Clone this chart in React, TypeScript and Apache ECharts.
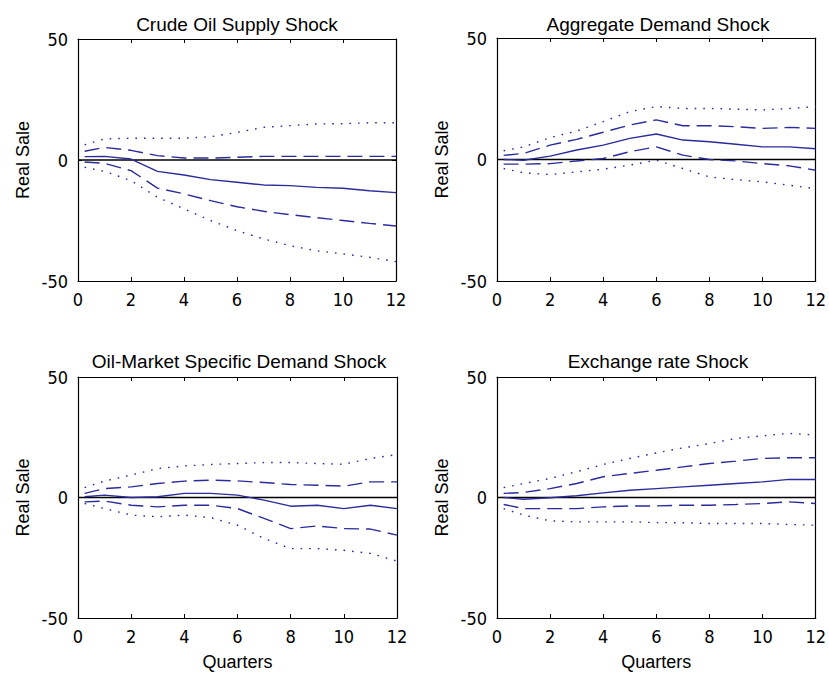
import React, { useEffect, useRef } from "react";
import * as echarts from "echarts";

// ---------- data ----------
const QUARTERS = [0.25, 1, 2, 3, 4, 5, 6, 7, 8, 9, 10, 11, 12];
const TITLES = [
  "Crude Oil Supply Shock",
  "Aggregate Demand Shock",
  "Oil-Market Specific Demand Shock",
  "Exchange rate Shock",
];
const Y_NAME = "Real Sale";
const X_NAME = "Quarters";

// Crude Oil Supply Shock
const SUPPLY_UPPER_DOT = [6.3, 8.7, 9, 9, 9, 9.6, 11.4, 13.5, 14.2, 14.9, 15, 15.4, 15.4];
const SUPPLY_UPPER_DASH = [3.6, 5.2, 4, 1.8, 0.8, 0.8, 1.1, 1.5, 1.5, 1.5, 1.5, 1.5, 1.5];
const SUPPLY_MEDIAN = [1.4, 1.5, 0.4, -4.7, -6.2, -8.1, -9.2, -10.3, -10.6, -11.3, -11.7, -12.7, -13.5];
const SUPPLY_LOWER_DASH = [-0.8, -1.4, -4.4, -11.6, -14, -16.8, -19.3, -21.2, -22.6, -23.8, -25, -26.2, -27.3];
const SUPPLY_LOWER_DOT = [-3, -4.7, -8.5, -15.4, -20.2, -25, -29.2, -32.6, -35.4, -37.5, -38.8, -40.2, -42];

// Aggregate Demand Shock
const DEMAND_UPPER_DOT = [3.6, 5.2, 9, 11.7, 15.6, 19.7, 21.8, 21, 21, 20.7, 20.4, 21, 21.8];
const DEMAND_UPPER_DASH = [1.7, 2.5, 5.9, 8.3, 11.2, 14.2, 16.3, 13.9, 13.9, 13.5, 12.8, 13.2, 12.8];
const DEMAND_MEDIAN = [0, -0.3, 1.4, 3.9, 5.9, 8.7, 10.5, 8, 7.3, 6.3, 5.2, 5.2, 4.4];
const DEMAND_LOWER_DASH = [-1.9, -1.9, -1.7, -0.6, 0.4, 3.2, 5.2, 1.8, 0, -0.6, -1.7, -2.6, -4.4];
const DEMAND_LOWER_DOT = [-3.7, -5.5, -6.2, -5.1, -4, -2.3, -0.3, -3.7, -7.2, -8.3, -9.2, -10.6, -12];

// Oil-Market Specific Demand Shock
const OILMKT_UPPER_DOT = [4.1, 6.8, 9.3, 12, 13.1, 13.7, 14.1, 14.5, 14.5, 14.1, 13.8, 16.2, 17.8];
const OILMKT_UPPER_DASH = [1.7, 3.7, 4.4, 5.8, 6.8, 7.2, 6.9, 6.2, 5.4, 5.1, 4.7, 6.5, 6.5];
const OILMKT_MEDIAN = [0.3, 1, 0, 0.3, 1.7, 1.7, 1, -1.1, -3.6, -3.2, -4.6, -3.2, -4.6];
const OILMKT_LOWER_DASH = [-1.8, -1.5, -3.2, -3.9, -3.2, -3.2, -4.6, -8.7, -12.9, -11.8, -12.9, -13.1, -15.6];
const OILMKT_LOWER_DOT = [-2.5, -4.6, -7.3, -8, -7.3, -8.4, -11.5, -17, -21.2, -21.2, -21.9, -23.2, -26.4];

// Exchange rate Shock
const FX_UPPER_DOT = [4.1, 5.8, 7.9, 10.7, 13.7, 16.2, 18.5, 20.6, 22.4, 24.5, 25.6, 26.6, 25.9];
const FX_UPPER_DASH = [1.7, 2.1, 3.7, 5.8, 8.6, 10, 11.3, 12.7, 14.1, 15.1, 16.2, 16.5, 16.5];
const FX_MEDIAN = [0, -0.7, -0.1, 0.7, 1.9, 3, 3.7, 4.4, 5.1, 5.8, 6.5, 7.5, 7.5];
const FX_LOWER_DASH = [-2.9, -4.6, -4.6, -4.6, -3.9, -3.5, -3.5, -3.2, -3.2, -2.9, -2.5, -1.8, -2.5];
const FX_LOWER_DOT = [-4.6, -7.3, -9.7, -10.1, -10.1, -10.1, -10.4, -10.5, -10.8, -10.8, -10.8, -11.2, -11.5];

const ZERO_LINE = [[0, 0], [12, 0]];

const PANELS = [
  [SUPPLY_UPPER_DOT, SUPPLY_UPPER_DASH, SUPPLY_MEDIAN, SUPPLY_LOWER_DASH, SUPPLY_LOWER_DOT],
  [DEMAND_UPPER_DOT, DEMAND_UPPER_DASH, DEMAND_MEDIAN, DEMAND_LOWER_DASH, DEMAND_LOWER_DOT],
  [OILMKT_UPPER_DOT, OILMKT_UPPER_DASH, OILMKT_MEDIAN, OILMKT_LOWER_DASH, OILMKT_LOWER_DOT],
  [FX_UPPER_DOT, FX_UPPER_DASH, FX_MEDIAN, FX_LOWER_DASH, FX_LOWER_DOT],
];

// ---------- layout / style ----------
const GRIDS = [
  { left: 78, top: 39, width: 318, height: 242 },
  { left: 497, top: 38, width: 319, height: 243 },
  { left: 78, top: 377, width: 319, height: 241 },
  { left: 497, top: 377, width: 319, height: 241 },
];
const TITLE_POS = [
  { x: 232, y: 10 },
  { x: 653, y: 10 },
  { x: 234, y: 347 },
  { x: 653, y: 347 },
];
const BLUE = "#2b2b9c";
const NUM_FONT = "'Liberation Sans Narrow', 'DejaVu Sans Condensed', 'Arial Narrow', sans-serif";
const TXT_FONT = "'Liberation Sans', Arial, sans-serif";

export default function App() {
  const ref = useRef<HTMLDivElement>(null);
  useEffect(() => {
    if (!ref.current) return;
    const chart = echarts.init(ref.current, null, { renderer: "svg" });
    const xAxis: any[] = [];
    const yAxis: any[] = [];
    const series: any[] = [];
    const styles = [
      { type: [1.6, 7], width: 1.4 },
      { type: [15, 7], width: 1.4 },
      { type: "solid", width: 1.4 },
      { type: [15, 7], width: 1.4 },
      { type: [1.6, 7], width: 1.4 },
    ];
    const axisLine = { show: true, onZero: false, lineStyle: { color: "#000", width: 1.2 } };
    const axisTick = { show: true, inside: true, length: 4, lineStyle: { color: "#000" } };
    GRIDS.forEach((g, i) => {
      const bottomRow = i >= 2;
      xAxis.push({
        gridIndex: i,
        type: "value",
        min: 0,
        max: 12,
        interval: 2,
        position: "bottom",
        name: bottomRow ? X_NAME : "",
        nameLocation: "middle",
        nameGap: 35,
        nameTextStyle: { fontFamily: TXT_FONT, fontSize: 18, color: "#000" },
        axisLine,
        axisTick,
        axisLabel: { color: "#000", fontFamily: NUM_FONT, fontSize: 18, margin: 9 },
        splitLine: { show: false },
      });
      xAxis.push({
        gridIndex: i,
        type: "value",
        min: 0,
        max: 12,
        interval: 2,
        position: "top",
        axisLine,
        axisTick,
        axisLabel: { show: false },
        splitLine: { show: false },
      });
      yAxis.push({
        gridIndex: i,
        type: "value",
        min: -50,
        max: 50,
        interval: 50,
        position: "left",
        name: Y_NAME,
        nameLocation: "middle",
        nameGap: 46,
        nameTextStyle: { fontFamily: TXT_FONT, fontSize: 18, color: "#000" },
        axisLine,
        axisTick,
        axisLabel: { color: "#000", fontFamily: NUM_FONT, fontSize: 18, margin: 10 },
        splitLine: { show: false },
      });
      yAxis.push({
        gridIndex: i,
        type: "value",
        min: -50,
        max: 50,
        interval: 50,
        position: "right",
        axisLine,
        axisTick,
        axisLabel: { show: false },
        splitLine: { show: false },
      });
      series.push({
        type: "line",
        xAxisIndex: 2 * i,
        yAxisIndex: 2 * i,
        data: ZERO_LINE,
        symbol: "none",
        silent: true,
        lineStyle: { color: "#000", width: 1.6 },
      });
      PANELS[i].forEach((vals, k) => {
        series.push({
          type: "line",
          xAxisIndex: 2 * i,
          yAxisIndex: 2 * i,
          data: QUARTERS.map((q, j) => [q, vals[j]]),
          symbol: "none",
          lineStyle: { color: BLUE, width: styles[k].width, type: styles[k].type as any },
        });
      });
    });
    chart.setOption({
      animation: false,
      backgroundColor: "#fff",
      title: TITLES.map((t, i) => ({
        text: t,
        left: TITLE_POS[i].x,
        top: TITLE_POS[i].y,
        textAlign: "center",
        textStyle: { fontFamily: TXT_FONT, fontSize: 19, fontWeight: "normal", color: "#000" },
      })),
      grid: GRIDS.map((g) => ({ ...g, containLabel: false })),
      xAxis,
      yAxis,
      series,
    });
    return () => chart.dispose();
  }, []);
  return (
    <div
      ref={ref}
      style={{ position: "fixed", left: 0, top: 0, width: 829, height: 677, background: "#fff" }}
    />
  );
}
